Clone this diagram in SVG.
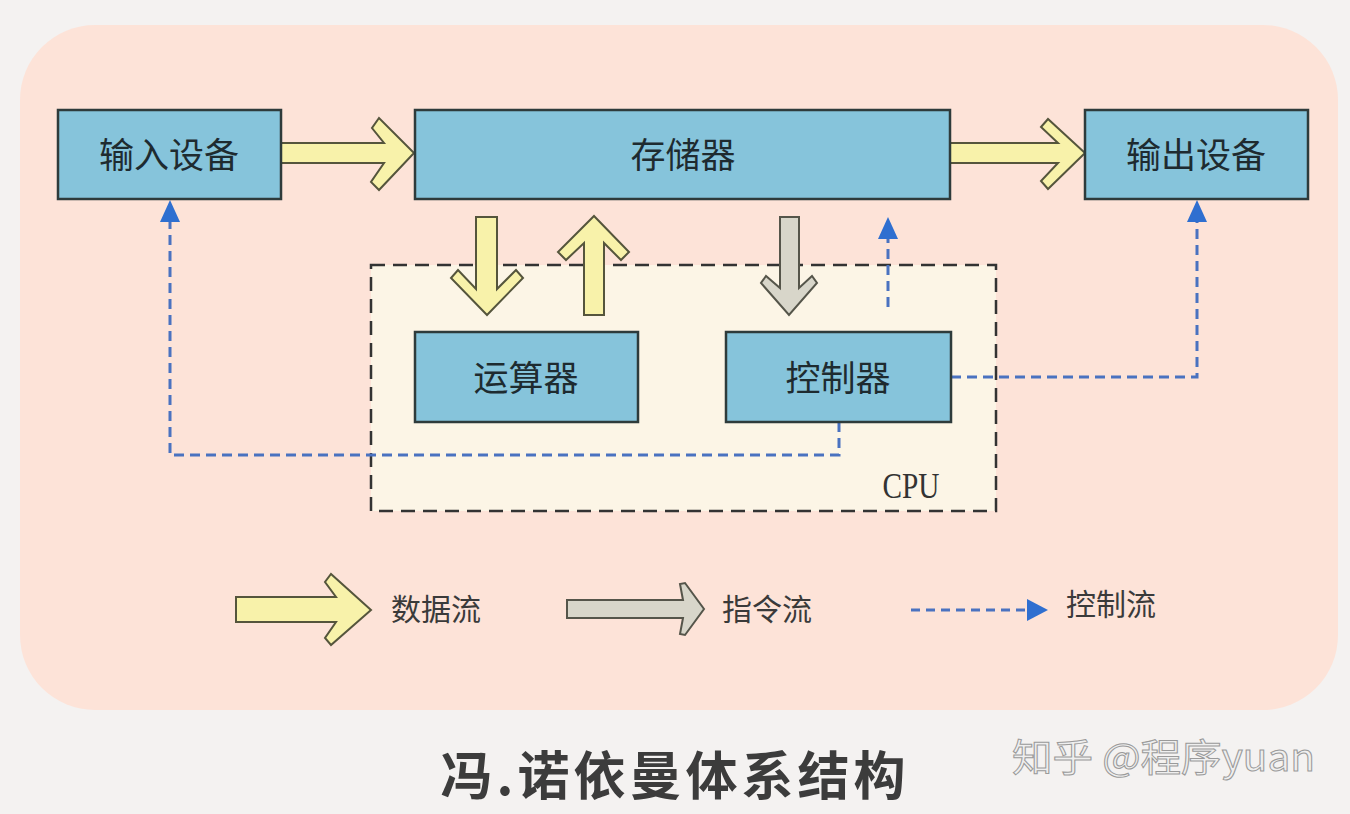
<svg xmlns="http://www.w3.org/2000/svg" width="1350" height="814" viewBox="0 0 1350 814">
<defs>
<style>
.node{fill:#86c4db;stroke:#2e3b3b;stroke-width:2.5}
.lbl{font-family:"Noto Sans CJK SC","Noto Sans CJK JP",sans-serif;font-size:35px;fill:#1e2b30;text-anchor:middle;dominant-baseline:central}
.data{fill:#f8f2aa;stroke:#55553c;stroke-width:2;stroke-linejoin:miter}
.instr{fill:#d8d6ca;stroke:#55554a;stroke-width:2}
.ctrl{fill:none;stroke:#4a72c0;stroke-width:3;stroke-dasharray:10 6}
.leg{font-family:"Noto Sans CJK SC",sans-serif;font-size:30px;fill:#3a3a3a;dominant-baseline:central}
</style>
<marker id="ah" viewBox="0 0 22 20" refX="0" refY="10" markerWidth="22" markerHeight="20" markerUnits="userSpaceOnUse" orient="auto">
<path d="M0,0 L22,10 L0,20 z" fill="#2f6fd0"/>
</marker>
</defs>
<rect width="1350" height="814" fill="#f4f2f1"/>
<rect x="20" y="25" width="1318" height="685" rx="75" fill="#fde3d8"/>
<g id="cpu">
<rect x="371" y="265" width="625" height="246" fill="#fcf5e6" stroke="#333" stroke-width="2.5" stroke-dasharray="14 8"/>
<text x="911" y="486" font-family="Liberation Serif,serif" font-size="36" fill="#333" text-anchor="middle" dominant-baseline="central" textLength="57" lengthAdjust="spacingAndGlyphs">CPU</text>
</g>
<g id="connectors">
<path class="data" d="M281,143 L384,143 L372,128 L379,118 L414,153 L379,190 L371,182 L384,163 L281,163 Z"/>
<path class="data" d="M950,143 L1058,143 L1041,127 L1048,119 L1085,153 L1048,189 L1041,181 L1058,163 L950,163 Z"/>
<path class="data" d="M476,217 L497,217 L497,289 L516,270 L523,278 L487,315 L451,278 L458,270 L476,289 Z"/>
<path class="data" d="M584,315 L604,315 L604,243 L621,260 L629,252 L594,216 L558,252 L566,260 L584,243 Z"/>
<path class="instr" d="M780,217 L799,217 L799,288 L812,276 L817,283 L789,315 L761,283 L766,276 L780,288 Z"/>
<path class="ctrl" d="M839,422 V455 H170 V222" marker-end="url(#ah)"/>
<path class="ctrl" d="M951,377 H1197 V222" marker-end="url(#ah)"/>
<path class="ctrl" d="M888,307 V239" marker-end="url(#ah)"/>
</g>
<g id="input"><rect class="node" x="58" y="110" width="223" height="89"/><text class="lbl" x="169" y="152">输入设备</text></g>
<g id="memory"><rect class="node" x="415" y="110" width="535" height="89"/><text class="lbl" x="683" y="152">存储器</text></g>
<g id="output"><rect class="node" x="1085" y="110" width="223" height="89"/><text class="lbl" x="1196" y="152">输出设备</text></g>
<g id="alu"><rect class="node" x="415" y="332" width="223" height="90"/><text class="lbl" x="526" y="375">运算器</text></g>
<g id="control"><rect class="node" x="726" y="332" width="225" height="90"/><text class="lbl" x="838" y="375">控制器</text></g>
<g id="legend">
<path class="data" d="M236,597 L336,597 L325,582 L331,574 L371,610 L331,645 L325,638 L336,622 L236,622 Z"/>
<text class="leg" x="391" y="607">数据流</text>
<path class="instr" d="M567,600 L683,600 L680,584 L685,583 L704,609 L685,635 L680,634 L683,618 L567,618 Z"/>
<text class="leg" x="722" y="607">指令流</text>
<path d="M911,610 H1027" stroke="#4a72c0" stroke-width="3" stroke-dasharray="9 6" fill="none"/>
<path d="M1027,599 L1048,610 L1027,621 Z" fill="#2f6fd0"/>
<text class="leg" x="1066" y="602">控制流</text>
</g>
<text x="675" y="772" font-family="Noto Sans CJK SC,sans-serif" font-size="52" font-weight="bold" fill="#3c3c3c" text-anchor="middle" dominant-baseline="central" letter-spacing="4">冯.诺依曼体系结构</text>
<text x="1012" y="754" font-family="Noto Sans CJK SC,sans-serif" font-size="38" fill="#efefef" stroke="#9a9a9a" stroke-width="1" dominant-baseline="central" textLength="303" lengthAdjust="spacingAndGlyphs">知乎 @程序yuan</text>
</svg>
